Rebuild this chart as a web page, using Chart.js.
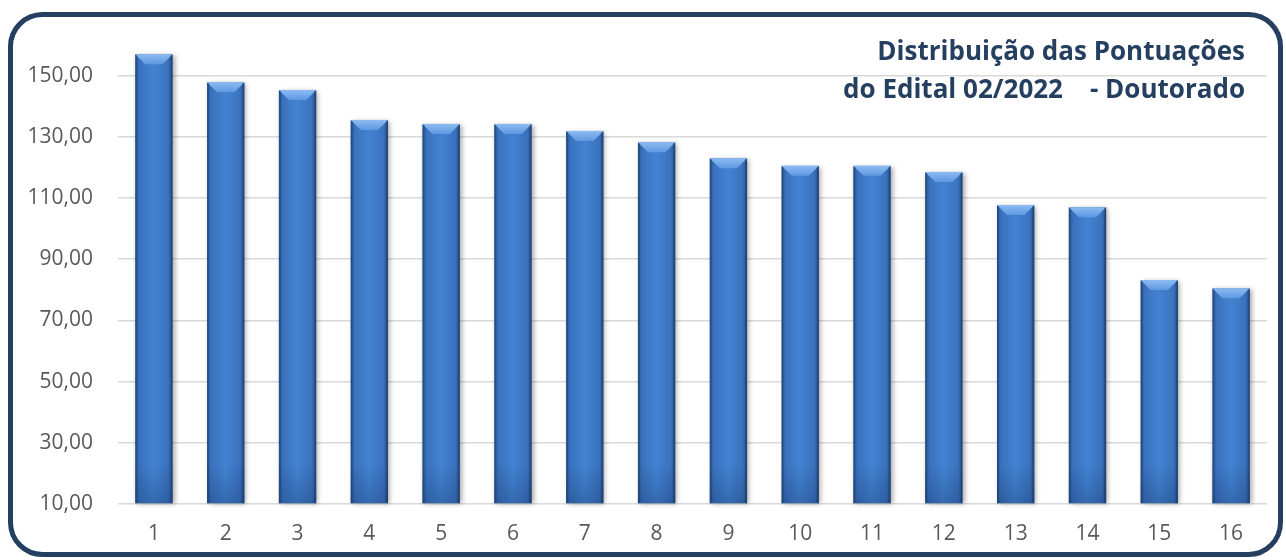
<!DOCTYPE html>
<html>
<head>
<meta charset="utf-8">
<script src="https://cdn.jsdelivr.net/npm/chart.js@4.4.1/dist/chart.umd.min.js"></script>
<style>
  html, body { margin: 0; padding: 0; background: #fff; }
  #wrap { width: 1286px; height: 560px; position: relative; }
</style>
</head>
<body>
<div id="wrap"><canvas id="grafico" width="1286" height="560"></canvas></div>
<script>
// Dados
const candidatos = ['1', '2', '3', '4', '5', '6', '7', '8', '9', '10', '11', '12', '13', '14', '15', '16'];
const pontuacoes = [157.0, 147.8, 145.3, 135.5, 134.2, 134.2, 131.9, 128.2, 123.0, 120.5, 120.5, 118.5, 107.7, 107.0, 83.2, 80.5];
const ticksY = [10, 30, 50, 70, 90, 110, 130, 150];
const titulo = ['Distribuição das Pontuações', 'do Edital 02/2022    - Doutorado'];

const AZUL_ESCURO = '#243F60';
const FONTE = 'Open Sans';

// moldura arredondada + título
const moldura = {
  id: 'moldura',
  beforeDraw(chart) {
    const ctx = chart.ctx;
    ctx.save();
    ctx.fillStyle = '#fff';
    ctx.fillRect(0, 0, chart.width, chart.height);
    ctx.beginPath();
    ctx.roundRect(10.5, 14.5, 1270, 540, 32);
    ctx.lineWidth = 5;
    ctx.strokeStyle = AZUL_ESCURO;
    ctx.stroke();
    ctx.restore();
  },
  afterDraw(chart) {
    const ctx = chart.ctx;
    ctx.save();
    ctx.font = 'bold 26px "Open Sans", sans-serif';
    ctx.fillStyle = AZUL_ESCURO;
    ctx.textAlign = 'right';
    ctx.textBaseline = 'middle';
    ctx.fillText(titulo[0], 1245, 53);
    ctx.fillText(titulo[1], 1245, 91);
    ctx.restore();
  }
};

// efeito de bisel nas barras
const bisel = {
  id: 'bisel',
  afterDatasetsDraw(chart) {
    const ctx = chart.ctx;
    const meta = chart.getDatasetMeta(0);
    meta.data.forEach((bar) => {
      const { x, y, base, width } = bar.getProps(['x', 'y', 'base', 'width'], true);
      const l = x - width / 2, r = x + width / 2;
      ctx.save();
      // sombra
      ctx.shadowColor = 'rgba(0,0,0,0.35)';
      ctx.shadowBlur = 5;
      ctx.shadowOffsetX = 2;
      ctx.shadowOffsetY = 1;
      const g = ctx.createLinearGradient(l, 0, r, 0);
      g.addColorStop(0, '#2B5A98');
      g.addColorStop(0.12, '#3A72BE');
      g.addColorStop(0.5, '#4383D2');
      g.addColorStop(0.88, '#3A72BE');
      g.addColorStop(1, '#264F86');
      ctx.fillStyle = g;
      ctx.fillRect(l, y, width, base - y);
      ctx.restore();

      // topo claro (trapézio)
      const bev = 10;
      ctx.save();
      const gt = ctx.createLinearGradient(0, y, 0, y + bev);
      gt.addColorStop(0, '#8DBBF2');
      gt.addColorStop(1, '#5F98E0');
      ctx.fillStyle = gt;
      ctx.beginPath();
      ctx.moveTo(l, y);
      ctx.lineTo(r, y);
      ctx.lineTo(r - bev, y + bev);
      ctx.lineTo(l + bev, y + bev);
      ctx.closePath();
      ctx.fill();
      // laterais escuras
      ctx.fillStyle = 'rgba(20,50,95,0.35)';
      ctx.fillRect(l, y + 1, 2, base - y - 1);
      ctx.fillRect(r - 2, y + 1, 2, base - y - 1);
      // base levemente escura
      const gb = ctx.createLinearGradient(0, base - 40, 0, base);
      gb.addColorStop(0, 'rgba(20,50,95,0)');
      gb.addColorStop(1, 'rgba(20,50,95,0.3)');
      ctx.fillStyle = gb;
      ctx.fillRect(l, base - 40, width, 40);
      ctx.restore();
    });
  }
};

Chart.defaults.font.family = FONTE;
Chart.defaults.font.size = 21;
Chart.defaults.color = '#595959';

const ctxGrafico = document.getElementById('grafico').getContext('2d');
new Chart(ctxGrafico, {
  type: 'bar',
  data: {
    labels: candidatos,
    datasets: [{
      label: 'Pontuação',
      data: pontuacoes,
      backgroundColor: 'rgba(0,0,0,0)',
      barPercentage: 0.52,
      categoryPercentage: 1.0,
      base: 10
    }]
  },
  options: {
    responsive: false,
    animation: false,
    layout: { padding: { left: 0, right: 19, top: 45, bottom: 0 } },
    plugins: {
      legend: { display: false },
      tooltip: { enabled: false }
    },
    scales: {
      x: {
        grid: { display: false, drawTicks: false },
        border: { display: false },
        ticks: {
          color: '#595959',
          font: { family: FONTE, size: 21 },
          padding: 17
        },
        afterFit(scale) { scale.height = 56; }
      },
      y: {
        min: 10,
        max: 160,
        grid: { color: '#D9D9D9', lineWidth: 1.5, drawTicks: false },
        border: { display: false },
        afterBuildTicks(scale) { scale.ticks = ticksY.map(v => ({ value: v })); },
        afterFit(scale) { scale.width = 118; },
        ticks: {
          color: '#595959',
          font: { family: FONTE, size: 21 },
          padding: 25,
          callback: (v) => v.toFixed(2).replace('.', ',')
        }
      }
    }
  },
  plugins: [moldura, bisel]
});
</script>
</body>
</html>
